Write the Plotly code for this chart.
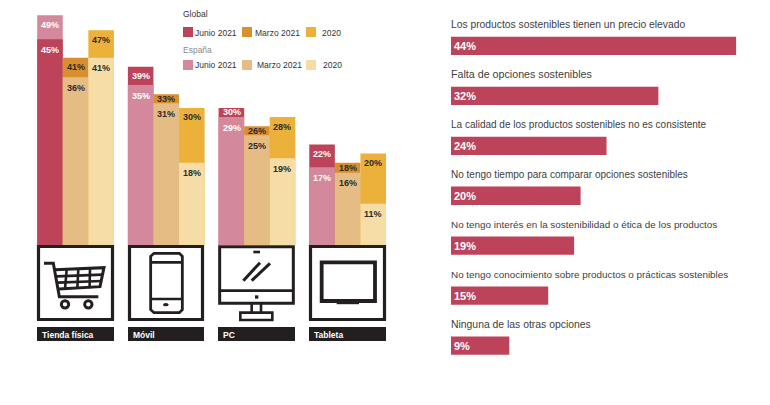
import plotly.graph_objects as go

W, H = 770, 405
FONT = "Liberation Sans, Arial, sans-serif"
DARK = "#231F20"

# ---------- data ----------
channels = ["Tienda física", "Móvil", "PC", "Tableta"]
periods = ["Junio 2021", "Marzo 2021", "2020"]

global_junio = [45, 39, 30, 22]
global_marzo = [41, 33, 26, 18]
global_2020 = [47, 30, 28, 20]
espana_junio = [49, 35, 29, 17]
espana_marzo = [36, 31, 25, 16]
espana_2020 = [41, 18, 19, 11]

# bar heights as drawn in the picture (a few differ slightly from the printed label)
alto_espana_junio = [50.3, 35, 28, 17]
alto_espana_marzo = [36.7, 31, 24, 15.8]
alto_espana_2020 = [41, 18, 19, 9]

reasons = [
    "Los productos sostenibles tienen un precio elevado",
    "Falta de opciones sostenibles",
    "La calidad de los productos sostenibles no es consistente",
    "No tengo tiempo para comparar opciones sostenibles",
    "No tengo interés en la sostenibilidad o ética de los productos",
    "No tengo conocimiento sobre productos o prácticas sostenibles",
    "Ninguna de las otras opciones",
]
reason_values = [44, 32, 24, 20, 19, 15, 9]

# ---------- colours ----------
COL_GLOBAL = ["#BC435A", "#D98E2F", "#EBB13B"]
COL_ESP = ["#D3899B", "#E6BC85", "#F6DDA6"]
TXT = ["white", "#2b2b2b", "#2b2b2b"]
Y_SCALE = 4.57
COL_W = 25.4

def px(x):
    return x / W

def py(y):
    return 1 - y / H

fig = go.Figure()
shapes = []
annotations = []

global_series = [global_junio, global_marzo, global_2020]
esp_series = [espana_junio, espana_marzo, espana_2020]
esp_heights = [alto_espana_junio, alto_espana_marzo, alto_espana_2020]

# The taller bar of each pair goes behind, the shorter in front.
for p, name in enumerate(periods):
    back, front = [], []
    for i in range(len(channels)):
        g = (global_series[p][i], global_series[p][i], COL_GLOBAL[p])
        e = (esp_heights[p][i], esp_series[p][i], COL_ESP[p])
        hi, lo = (g, e) if g[0] >= e[0] else (e, g)
        back.append(hi)
        front.append(lo)
        band = (hi[0] - lo[0]) * Y_SCALE
        for v, off in ((hi, min(band / 2, 9.5)), (lo, 10.5)):
            annotations.append(dict(
                xref="x", yref="y", x=i, y=v[0], text=f"<b>{v[1]}%</b>", showarrow=False,
                xanchor="center", yanchor="middle", xshift=(p - 1) * COL_W, yshift=-off,
                font=dict(family=FONT, size=9, color=TXT[p]), borderpad=0, borderwidth=0))
    for layer in (back, front):
        fig.add_trace(go.Bar(
            x=channels,
            y=[v[0] for v in layer],
            marker=dict(color=[v[2] for v in layer], line=dict(width=0)),
            offsetgroup=str(p),
            showlegend=False,
            hoverinfo="skip",
            xaxis="x",
            yaxis="y",
        ))

fig.add_trace(go.Bar(
    x=reason_values,
    y=reasons,
    orientation="h",
    text=[f"<b>{v}%</b>" for v in reason_values],
    marker=dict(color="#BC435A", line=dict(width=0)),
    textposition="inside",
    insidetextanchor="start",
    textangle=0,
    insidetextfont=dict(family=FONT, size=11, color="white"),
    showlegend=False,
    hoverinfo="skip",
    xaxis="x2",
    yaxis="y2",
))

# ---------- shapes ----------
def rect(x0, y0, x1, y1, fill=None, line=None, lw=0):
    shapes.append(dict(type="rect", xref="paper", yref="paper",
                       x0=px(x0), x1=px(x1), y0=py(y0), y1=py(y1),
                       fillcolor=fill or "rgba(0,0,0,0)",
                       line=dict(color=line or "rgba(0,0,0,0)", width=lw)))

def oval(x0, y0, x1, y1, fill=None, line=None, lw=0):
    shapes.append(dict(type="circle", xref="paper", yref="paper",
                       x0=px(x0), x1=px(x1), y0=py(y0), y1=py(y1),
                       fillcolor=fill or "rgba(0,0,0,0)",
                       line=dict(color=line or "rgba(0,0,0,0)", width=lw)))

def poly(points, lw=2.0, closed=False, fill=None):
    d = "M " + " L ".join(f"{px(x):.5f},{py(y):.5f}" for x, y in points)
    if closed:
        d += " Z"
    shapes.append(dict(type="path", xref="paper", yref="paper", path=d,
                       fillcolor=fill or "rgba(0,0,0,0)",
                       line=dict(color=DARK, width=lw)))

def text(x, y, s, size=9, color="#333333", anchor="left"):
    annotations.append(dict(xref="paper", yref="paper", x=px(x), y=py(y), text=s,
                            showarrow=False, xanchor=anchor, yanchor="middle",
                            font=dict(family=FONT, size=size, color=color),
                            borderpad=0, borderwidth=0))

# legend
text(183, 14.5, "Global", 8.5, "#333333")
text(183, 50, "España", 8.5, "#8a8a8a")
sq_x = [183, 242, 306]
lab_top = [194.5, 255, 322]
lab_bot = [194.5, 257, 323]
for i, per in enumerate(periods):
    rect(sq_x[i], 27, sq_x[i] + 10, 37, fill=COL_GLOBAL[i])
    rect(sq_x[i], 60, sq_x[i] + 10, 70, fill=COL_ESP[i])
    text(lab_top[i], 33, per, 8.5)
    text(lab_bot[i], 65, per, 8.5)

# icon frames and captions
lefts = [37, 128, 218, 309]
rights = [114, 204, 295, 386]
for i, name in enumerate(channels):
    l, r = lefts[i], rights[i]
    rect(l, 327, r, 341, fill=DARK)
    text(l + 5, 335, f"<b>{name}</b>", 8.5, "white")
    if name != "PC":
        rect(l + 1.5, 246.5, r - 1.5, 319.5, line=DARK, lw=3.2)

def Z(x0, y0):
    return lambda pts: [(x0 + a / 3, y0 + b / 3) for a, b in pts]

# cart
c = Z(30, 235)
poly(c([(42, 85), (70, 85), (88, 185), (205, 185)]), 3)
poly(c([(75, 104), (222, 98), (210, 155), (86, 162)]), 3)
poly(c([(80, 124), (218, 119)]), 2.6)
poly(c([(83, 143), (214, 138)]), 2.6)
for a, b in [(110, 103), (145, 101), (180, 100)]:
    poly(c([(a, b), (a - 3 + (a - 145) * 0.05, 160)]), 2.6)
for cx in (105, 175):
    oval(30 + (cx - 11) / 3, 235 + 197 / 3, 30 + (cx + 11) / 3, 235 + 219 / 3, line=DARK, lw=3)

# phone
c = Z(30, 235)
poly(c([(372, 55), (448, 55), (457, 64), (457, 224), (448, 233), (372, 233), (362, 224), (362, 64)]), 2.8, closed=True)
poly(c([(362, 82), (457, 82)]), 2.6)
poly(c([(362, 192), (457, 192)]), 2.6)
oval(30 + 399 / 3, 235 + 204 / 3, 30 + 416 / 3, 235 + 214 / 3, fill=DARK)

# desktop computer
c = Z(210, 235)
poly(c([(29, 35), (250, 35), (250, 205), (29, 205)]), 3, closed=True)
poly(c([(29, 167), (250, 167)]), 2.8)
rect(210 + 130 / 3, 235 + 47 / 3, 210 + 150 / 3, 235 + 55 / 3, fill=DARK)
rect(210 + 135 / 3, 235 + 181 / 3, 210 + 145 / 3, 235 + 191 / 3, fill=DARK)
poly(c([(100, 137), (150, 83)]), 3)
poly(c([(125, 137), (180, 85)]), 3)
poly(c([(125, 205), (125, 233)]), 2.6)
poly(c([(153, 205), (153, 233)]), 2.6)
poly(c([(91, 233), (187, 233), (187, 255), (91, 255)]), 2.6, closed=True)

# tablet
c = Z(210, 235)
poly(c([(335, 82), (495, 82), (495, 198), (335, 198)]), 3.8, closed=True)
poly(c([(380, 204), (447, 204)]), 2.4)

# reason captions above each bar
caption_sizes = [10.3, 10.7, 10, 10, 9.9, 9.9, 10.4]
for r, sz in zip(reasons, caption_sizes):
    annotations.append(dict(xref="x2", yref="y2", x=0, y=r, text=r, showarrow=False,
                            xanchor="left", yanchor="middle", yshift=21.5,
                            font=dict(family=FONT, size=sz, color="#404040"),
                            borderpad=0, borderwidth=0))

fig.update_layout(
    width=W, height=H,
    margin=dict(l=0, r=0, t=0, b=0),
    paper_bgcolor="white", plot_bgcolor="white",
    barmode="group",
    bargap=0.154,
    bargroupgap=0,
    showlegend=False,
    shapes=shapes,
    annotations=annotations,
    xaxis=dict(domain=[px(30.2), px(393)], range=[-0.5, 3.5], visible=False, fixedrange=True),
    yaxis=dict(domain=[py(245), 1], range=[0, 245 / Y_SCALE], visible=False, fixedrange=True),
    xaxis2=dict(domain=[px(451), 1], range=[0, 319 / 6.48], visible=False, anchor="y2"),
    yaxis2=dict(domain=[py(370.5), py(21)], range=[6.5, -0.5], visible=False, anchor="x2",
                categoryorder="array", categoryarray=reasons),
)
fig.data[-1].width = 18.3 / 49.9

fig.write_html("out.html", config=dict(displayModeBar=False),
               post_script="document.body.style.margin='0';")
